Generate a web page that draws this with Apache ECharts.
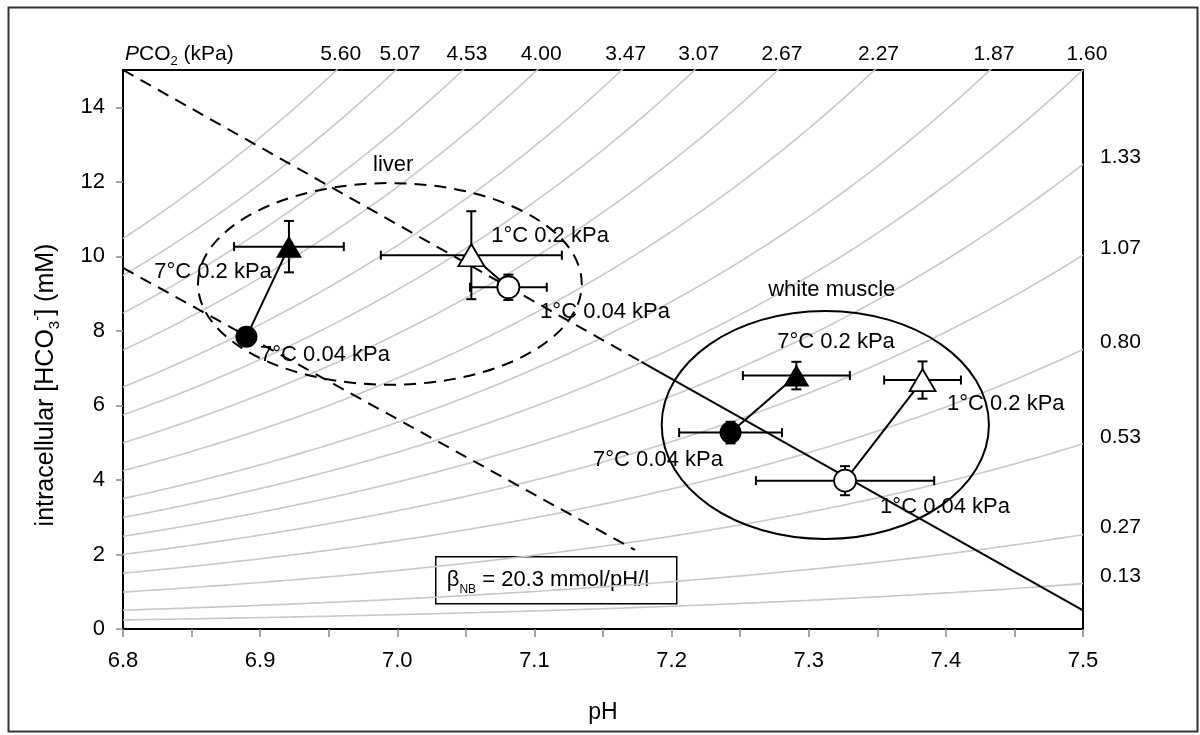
<!DOCTYPE html>
<html><head><meta charset="utf-8">
<script src="https://cdn.jsdelivr.net/npm/echarts@6/dist/echarts.min.js"></script>
<style>html,body{margin:0;padding:0;background:#fff}#chart{width:1200px;height:735px}</style>
</head><body><div id="chart"></div>
<script>
// ---------- data ----------
// PCO2 isopleths (kPa)
const pco2Levels = [0.13, 0.27, 0.53, 0.80, 1.07, 1.33, 1.60, 1.87, 2.27, 2.67, 3.07, 3.47, 4.00, 4.53, 5.07, 5.60];
const co2Solubility = 0.4;   // mmol/l/kPa
const pK = 6.13;
const phRange = [6.8, 7.5];
const hco3Range = [0, 15];
const phLabelValues = [6.8, 6.9, 7.0, 7.1, 7.2, 7.3, 7.4, 7.5];
const phTickValues = [6.8, 6.85, 6.9, 6.95, 7.0, 7.05, 7.1, 7.15, 7.2, 7.25, 7.3, 7.35, 7.4, 7.45, 7.5];
const hco3TickValues = [0, 2, 4, 6, 8, 10, 12, 14];

// points: [pH, HCO3 (mM), pH error, HCO3 error]
const liver_7C_004 = [6.890, 7.84, 0, 0];
const liver_7C_02  = [6.921, 10.26, 0.040, 0.69];
const liver_1C_02  = [7.054, 10.03, 0.066, 1.18];
const liver_1C_004 = [7.081, 9.17, 0.028, 0.34];
const muscle_7C_004 = [7.243, 5.27, 0.0375, 0.29];
const muscle_7C_02  = [7.291, 6.80, 0.039, 0.37];
const muscle_1C_02  = [7.383, 6.68, 0.028, 0.50];
const muscle_1C_004 = [7.3265, 3.98, 0.065, 0.39];

// tissue groupings: [center pH, center HCO3, pH radius, HCO3 radius]
const liverEllipse = [6.9946, 9.26, 0.1399, 2.705];
const muscleEllipse = [7.3121, 5.475, 0.1193, 3.06];

// non-bicarbonate buffer lines
const bufferUpper = [[6.8, 15.0], [7.5, 0.5]];
const bufferUpperDashEnd = 7.178;
const bufferLower = [[6.8, 9.69], [7.1733, 2.12]];

// annotations [pH, HCO3, text]
const annotations = [
  [6.997, 12.45, 'liver'],
  [6.8656, 9.58, '7°C 0.2 kPa'],
  [6.9473, 7.35, '7°C 0.04 kPa'],
  [7.1114, 10.54, '1°C 0.2 kPa'],
  [7.1515, 8.51, '1°C 0.04 kPa'],
  [7.3168, 9.10, 'white muscle'],
  [7.3199, 7.71, '7°C 0.2 kPa'],
  [7.4437, 6.04, '1°C 0.2 kPa'],
  [7.1901, 4.53, '7°C 0.04 kPa'],
  [7.3994, 3.28, '1°C 0.04 kPa']
];

// ---------- build ----------
const FONT = '"Liberation Sans", Arial, sans-serif';
const TXT = '#000';
const hco3At = (p, ph) => co2Solubility * p * Math.pow(10, ph - pK);
const series = [];

pco2Levels.forEach(p => {
  const pts = [];
  for (let i = 0; i <= 280; i++) {
    const ph = phRange[0] + (phRange[1] - phRange[0]) * i / 280;
    pts.push([ph, hco3At(p, ph)]);
  }
  series.push({type: 'line', data: pts, showSymbol: false, silent: true, clip: true, z: 1,
    lineStyle: {color: '#c8c8c8', width: 1.6}});
});

// PCO2 labels
const topLabels = [], rightLabels = [];
pco2Levels.forEach(p => {
  const phTop = pK + Math.log10(hco3Range[1] / (co2Solubility * p));
  if (phTop <= phRange[1] + 1e-6) topLabels.push({value: [Math.min(phTop, phRange[1]), hco3Range[1]], name: p.toFixed(2)});
  else rightLabels.push({value: [phRange[1], hco3At(p, phRange[1])], name: p.toFixed(2)});
});
series.push({type: 'scatter', data: topLabels, symbolSize: 0, silent: true, clip: false, z: 10, itemStyle: {opacity: 1},
  label: {show: true, position: 'top', distance: 5, offset: [4, 0], formatter: '{b}', fontSize: 21, fontFamily: FONT, color: TXT}});
series.push({type: 'scatter', data: rightLabels, symbolSize: 0, silent: true, clip: false, z: 10, itemStyle: {opacity: 1},
  label: {show: true, position: 'right', distance: 17, offset: [0, -7], formatter: '{b}', fontSize: 21, fontFamily: FONT, color: TXT}});

// buffer lines
const upSlope = (bufferUpper[1][1] - bufferUpper[0][1]) / (bufferUpper[1][0] - bufferUpper[0][0]);
const breakPt = [bufferUpperDashEnd, bufferUpper[0][1] + upSlope * (bufferUpperDashEnd - bufferUpper[0][0])];
series.push({type: 'line', data: [bufferUpper[0], breakPt], showSymbol: false, silent: true, z: 3,
  lineStyle: {color: '#000', width: 2, type: [12, 8]}});
series.push({type: 'line', data: [breakPt, bufferUpper[1]], showSymbol: false, silent: true, z: 3,
  lineStyle: {color: '#000', width: 2}});
series.push({type: 'line', data: bufferLower, showSymbol: false, silent: true, z: 3,
  lineStyle: {color: '#000', width: 2, type: [12, 8]}});

// ellipses
function ellipseSeries(e, dashed) {
  return {type: 'custom', silent: true, z: 3, data: [e],
    renderItem: (params, api) => {
      const c = api.coord([api.value(0), api.value(1)]);
      const s = api.size([api.value(2), api.value(3)]);
      return {type: 'ellipse', shape: {cx: c[0], cy: c[1], rx: s[0], ry: s[1]},
        style: {fill: 'none', stroke: '#000', lineWidth: 2, lineDash: dashed ? [12, 8] : null}};
    }};
}
series.push(ellipseSeries(liverEllipse, true));
series.push(ellipseSeries(muscleEllipse, false));

// connecting lines
[[liver_7C_004, liver_7C_02], [liver_1C_02, liver_1C_004], [muscle_7C_004, muscle_7C_02], [muscle_1C_004, muscle_1C_02]]
  .forEach(pair => series.push({type: 'line', data: pair.map(d => [d[0], d[1]]), showSymbol: false, silent: true, z: 4,
    lineStyle: {color: '#000', width: 2}}));

// error bars
const allPts = [liver_7C_004, liver_7C_02, liver_1C_02, liver_1C_004, muscle_7C_004, muscle_7C_02, muscle_1C_02, muscle_1C_004];
series.push({type: 'custom', silent: true, z: 5, data: allPts,
  renderItem: (params, api) => {
    const x = api.value(0), y = api.value(1), ex = api.value(2), ey = api.value(3);
    const ch = [];
    const st = {stroke: '#000', lineWidth: 2};
    const ln = (a, b) => ({type: 'line', shape: {x1: a[0], y1: a[1], x2: b[0], y2: b[1]}, style: st});
    if (ex > 0) {
      const a = api.coord([x - ex, y]), b = api.coord([x + ex, y]);
      ch.push(ln(a, b), ln([a[0], a[1] - 4.5], [a[0], a[1] + 4.5]), ln([b[0], b[1] - 4.5], [b[0], b[1] + 4.5]));
    }
    if (ey > 0) {
      const a = api.coord([x, y - ey]), b = api.coord([x, y + ey]);
      ch.push(ln(a, b), ln([a[0] - 5, a[1]], [a[0] + 5, a[1]]), ln([b[0] - 5, b[1]], [b[0] + 5, b[1]]));
    }
    return {type: 'group', children: ch};
  }});

// markers
const mk = (pts, symbol, size, filled) => ({type: 'scatter', data: pts.map(d => [d[0], d[1]]), symbol, symbolSize: size, z: 6, silent: true,
  itemStyle: {color: filled ? '#000' : '#fff', borderColor: '#000', borderWidth: filled ? 0 : 1.8, opacity: 1}});
series.push(mk([liver_7C_004, muscle_7C_004], 'circle', 22, true));
series.push(mk([liver_7C_02, muscle_7C_02], 'triangle', [26, 22], true));
series.push(mk([liver_1C_004, muscle_1C_004], 'circle', 22, false));
series.push(mk([liver_1C_02, muscle_1C_02], 'triangle', [26, 22], false));

// annotation texts
series.push({type: 'scatter', symbolSize: 0, silent: true, z: 8, clip: false, itemStyle: {opacity: 1},
  data: annotations.map(a => ({value: [a[0], a[1]], name: a[2]})),
  label: {show: true, position: 'inside', formatter: '{b}', fontSize: 22, fontFamily: FONT, color: TXT}});

const chart = echarts.init(document.getElementById('chart'), null, {renderer: 'canvas'});
chart.setOption({
  animation: false,
  backgroundColor: '#fff',
  grid: {left: 123, right: 117, top: 70, bottom: 106, show: true, borderColor: '#000', borderWidth: 2, backgroundColor: 'transparent'},
  xAxis: {type: 'value', min: phRange[0], max: phRange[1], interval: 0.1,
    axisLine: {lineStyle: {color: '#000', width: 2}},
    axisTick: {show: true, length: 8, customValues: phTickValues, lineStyle: {color: '#888', width: 1.5}},
    axisLabel: {customValues: phLabelValues, formatter: v => v.toFixed(1), fontSize: 22, fontFamily: FONT, color: TXT, margin: 21},
    splitLine: {show: false},
    name: 'pH', nameLocation: 'middle', nameGap: 72, nameTextStyle: {fontSize: 23, fontFamily: FONT, color: TXT}},
  yAxis: {type: 'value', min: hco3Range[0], max: hco3Range[1], interval: 2,
    axisLine: {lineStyle: {color: '#000', width: 2}},
    axisTick: {show: true, length: 7, customValues: hco3TickValues, lineStyle: {color: '#888', width: 1.5}},
    axisLabel: {customValues: hco3TickValues, fontSize: 22, fontFamily: FONT, color: TXT, margin: 18},
    splitLine: {show: false}},
  graphic: [
    {type: 'rect', left: 6, top: 5, shape: {width: 1189, height: 724}, style: {fill: 'none', stroke: '#333', lineWidth: 2}, silent: true, z: 0},
    {type: 'text', x: 125, y: 54, style: {text: '{i|P}CO{s|2} (kPa)', fontSize: 21, fontFamily: FONT, fill: TXT, verticalAlign: 'middle',
      rich: {i: {fontStyle: 'italic', fontSize: 21, fontFamily: FONT}, s: {fontSize: 13, fontFamily: FONT, verticalAlign: 'bottom', lineHeight: 28}}}, z: 20},
    {type: 'text', x: 46, y: 385, rotation: Math.PI / 2, style: {text: 'intracellular [HCO{s|3}{p|-}] (mM)', fontSize: 25, fontFamily: FONT, fill: TXT, align: 'center', verticalAlign: 'middle',
      rich: {s: {fontSize: 15, fontFamily: FONT, verticalAlign: 'bottom', lineHeight: 32}, p: {fontSize: 15, fontFamily: FONT, verticalAlign: 'top', lineHeight: 32}}}, z: 20},
    {type: 'group', left: 435, top: 556, z: 20, children: [
      {type: 'rect', shape: {x: 0, y: 0, width: 241, height: 47}, style: {fill: '#fff', stroke: '#000', lineWidth: 1.5}},
      {type: 'text', x: 11, y: 23, style: {text: 'β{s|NB} = 20.3 mmol/pH/l', fontSize: 22, fontFamily: FONT, fill: TXT, verticalAlign: 'middle',
        rich: {s: {fontSize: 12, fontFamily: FONT, verticalAlign: 'bottom', lineHeight: 32}}}}
    ]}
  ],
  series
});
</script></body></html>
